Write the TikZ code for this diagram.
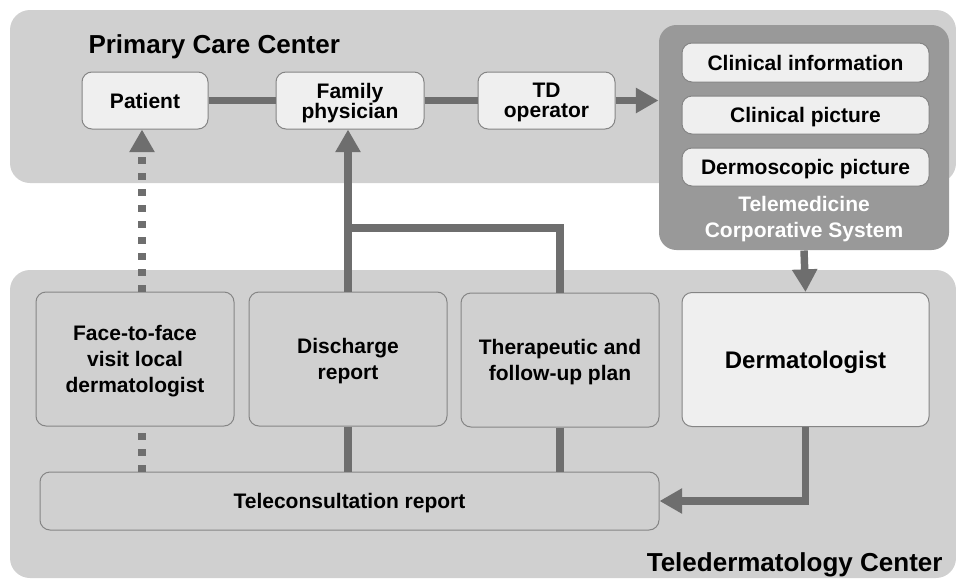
\documentclass[tikz,border=0pt]{standalone}
\usepackage{fontspec}
\setmainfont{Liberation Sans}
\usetikzlibrary{arrows.meta}

\definecolor{bandgray}{HTML}{D0D0D0}
\definecolor{boxwhite}{HTML}{EFEFEF}
\definecolor{tcsgray}{HTML}{999999}
\definecolor{flowgray}{HTML}{6E6E6E}
\definecolor{edgegray}{HTML}{858585}

\newcommand{\boxfont}{\bfseries\fontsize{15.75}{19.3}\selectfont}
\newcommand{\tightfont}{\bfseries\fontsize{15.75}{15}\selectfont}
\newcommand{\titlefont}{\bfseries\fontsize{19.5}{20}\selectfont}

\tikzset{every picture/.style={line width=0.75pt}}
\tikzset{
  lightbox/.style={draw=edgegray, fill=boxwhite, rounded corners=7.5pt, inner sep=0pt, align=center, text depth=0pt, font=\boxfont},
  bandbox/.style={lightbox, fill=bandgray},
  flow/.style={draw=flowgray, line width=5.6pt},
  flowarrow/.style={flow, -{Triangle[length=17pt,width=18pt]}},
  dotflow/.style={flow, dash pattern=on 5.25pt off 6.75pt},
}

\begin{document}
\begin{tikzpicture}[x=0.75pt,y=0.75pt,yscale=-1,xscale=1]
        \useasboundingbox (0,0) rectangle (956,578);

        %Shape: Rounded Rect [Primary care band]
        \fill [bandgray, rounded corners=15pt] (10,10) rectangle (956,183) ;
        %Shape: Rounded Rect [Teledermatology band]
        \fill [bandgray, rounded corners=15pt] (10,270) rectangle (956,578) ;

        % Text Node
        \node [anchor=west, inner sep=0pt, font=\titlefont] (pcc) at (88,47) {Primary Care Center};
        % Text Node
        \node [anchor=east, inner sep=0pt, font=\titlefont] (tdc) at (943,565) {Teledermatology Center};

        %Shape: Rounded Rect [Telemedicine system]
        \node [draw=none, fill=tcsgray, rounded corners=13pt, minimum width=217.5pt, minimum height=168.75pt] (tcs) at (804,137.5) {};
        \node [lightbox, minimum width=185.25pt, minimum height=29.25pt] (info) at (805.5,62.5) {Clinical information};
        \node [lightbox, minimum width=185.25pt, minimum height=28.5pt] (cpic) at (805.5,115) {Clinical picture};
        \node [lightbox, minimum width=185.25pt, minimum height=28.5pt] (dpic) at (805.5,167) {Dermoscopic picture};
        % Text Node
        \node [text=white, align=center, inner sep=0pt, font=\boxfont] (tcslabel) at (804,219) {Telemedicine\\Corporative System};

        % Primary care row
        \node [lightbox, minimum width=94.5pt, minimum height=42.75pt] (patient) at (145,100.5) {Patient};
        \node [lightbox, minimum width=111pt, minimum height=42.75pt, font=\tightfont] (family) at (350,100.5) {Family\\physician};
        \node [lightbox, minimum width=102.75pt, minimum height=42.75pt, font=\tightfont] (tdop) at (546.5,100.5) {TD\\operator};

        % Teledermatology row
        \node [bandbox, minimum width=148.5pt, minimum height=100.5pt] (face) at (135,359) {Face-to-face\\visit local\\dermatologist};
        \node [bandbox, minimum width=148.5pt, minimum height=100.5pt] (disch) at (348,359) {Discharge\\report};
        \node [bandbox, minimum width=148.5pt, minimum height=100.5pt] (thera) at (560,360) {Therapeutic and\\follow-up plan};
        \node [lightbox, minimum width=185.25pt, minimum height=100.5pt, font=\bfseries\fontsize{18}{20}\selectfont] (derm) at (805.5,359.5) {Dermatologist};
        \node [bandbox, minimum width=464.25pt, minimum height=43.5pt] (telecons) at (349.5,501) {Teleconsultation report};

        \coordinate (split) at (348,228);

        %Straight Lines
        \draw [flow] (patient) -- (family) ;
        \draw [flow] (family) -- (tdop) ;
        \draw [flowarrow] (tdop.east) -- (tdop.east -| tcs.west) ;
        \draw [flowarrow] (tcs.south) -- (derm.north) ;
        \draw [flowarrow] (disch.north) -- (disch.north |- family.south) ;
        \draw [flow] (split) -| (thera.north) ;
        \draw [flow] (disch.south) -- (disch.south |- telecons.north) ;
        \draw [flow] (thera.south) -- (thera.south |- telecons.north) ;
        \draw [flowarrow] (derm.south) |- (telecons.east) ;
        %Dotted Lines
        \draw [dotflow, -{Triangle[length=17pt,width=18pt]}] ([xshift=-2.25pt]patient.south |- face.north) -- ([xshift=-2.25pt]patient.south) ;
        \draw [dotflow] ([xshift=-2.25pt]patient.south |- telecons.north) -- ([xshift=-2.25pt]patient.south |- face.south) ;

\end{tikzpicture}
\end{document}
